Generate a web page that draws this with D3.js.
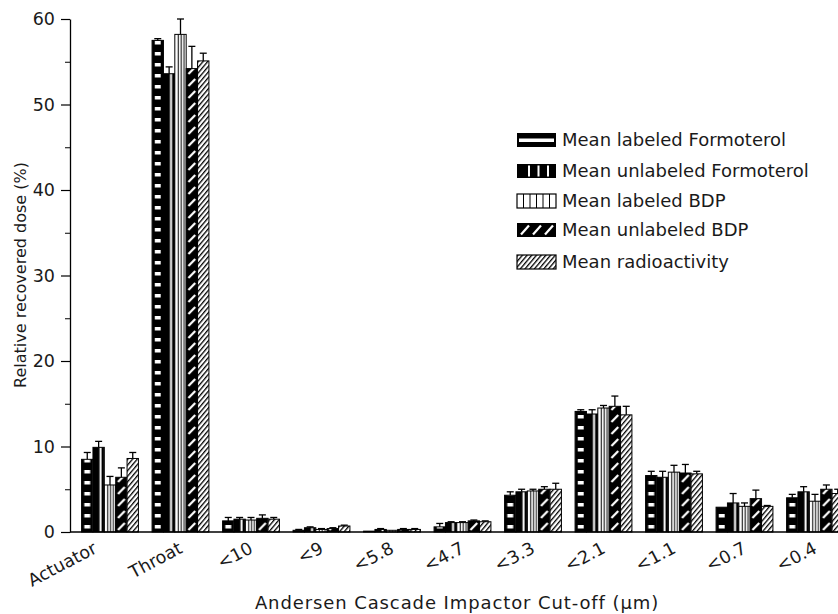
<!DOCTYPE html>
<html>
<head>
<meta charset="utf-8">
<script src="https://cdn.jsdelivr.net/npm/d3@7/dist/d3.min.js"></script>
<style>
  html, body { margin: 0; padding: 0; background: #fff; }
  svg { display: block; font-family: "DejaVu Sans", sans-serif; }
</style>
</head>
<body>
<svg id="chart" width="838" height="614"></svg>
<script>
// Impactor stages (x categories)
const categories = ["Actuator", "Throat", "<10", "<9", "<5.8", "<4.7", "<3.3", "<2.1", "<1.1", "<0.7", "<0.4"];

// Series names as shown in the legend
const seriesNames = ["Mean labeled Formoterol", "Mean unlabeled Formoterol", "Mean labeled BDP", "Mean unlabeled BDP", "Mean radioactivity"];

// Mean relative recovered dose (%) per stage
const labeledFormoterol   = [8.5, 57.5, 1.3, 0.2, 0.1, 0.6, 4.3, 14.1, 6.6, 2.9, 4.0];
const unlabeledFormoterol = [9.9, 53.6, 1.5, 0.5, 0.3, 1.1, 4.7, 13.8, 6.4, 3.4, 4.7];
const labeledBDP          = [5.5, 58.2, 1.4, 0.3, 0.2, 1.1, 4.8, 14.5, 7.0, 3.0, 3.6];
const unlabeledBDP        = [6.4, 54.2, 1.6, 0.4, 0.3, 1.3, 5.0, 14.7, 6.9, 3.9, 5.0];
const radioactivity       = [8.6, 55.1, 1.5, 0.7, 0.3, 1.2, 5.0, 13.7, 6.8, 3.0, 4.5];

// Upper error (SD) per stage
const errLabeledFormoterol   = [0.8, 0.2, 0.4, 0.1, 0.0, 0.4, 0.4, 0.2, 0.5, 0.0, 0.4];
const errUnlabeledFormoterol = [0.7, 0.8, 0.2, 0.1, 0.1, 0.1, 0.3, 0.5, 0.7, 1.1, 0.6];
const errLabeledBDP          = [1.0, 1.8, 0.3, 0.1, 0.0, 0.1, 0.2, 0.3, 0.8, 0.4, 0.8];
const errUnlabeledBDP        = [1.1, 2.6, 0.4, 0.1, 0.1, 0.1, 0.3, 1.2, 1.0, 1.0, 0.5];
const errRadioactivity       = [0.7, 0.9, 0.2, 0.1, 0.1, 0.1, 0.7, 1.0, 0.3, 0.1, 0.5];

// Axis ticks
const yTicks = [0, 10, 20, 30, 40, 50, 60];
const yMinorTicks = [5, 15, 25, 35, 45, 55];

const seriesValues = [labeledFormoterol, unlabeledFormoterol, labeledBDP, unlabeledBDP, radioactivity];
const seriesErrors = [errLabeledFormoterol, errUnlabeledFormoterol, errLabeledBDP, errUnlabeledBDP, errRadioactivity];

const svg = d3.select("#chart");
const W = 838, H = 614;
const axisX = 70, baseY = 532;
const textColor = "#1a1a1a";

const y = d3.scaleLinear().domain([0, 60]).range([baseY, 19]);
const x0 = d3.scaleBand().domain(categories).range([74.75, 850.25]).padding(0);
const x1 = d3.scaleBand().domain(d3.range(5)).range([0, x0.step()]).paddingInner(0).paddingOuter(0.6);
const bw = x1.bandwidth();
const start = x0.range()[0];

// ---- fill patterns for bars (tile aligned to each series' bar slot) ----
const defs = svg.append("defs");
function slotPattern(id, s, h) {
  return defs.append("pattern").attr("id", id)
    .attr("patternUnits", "userSpaceOnUse")
    .attr("x", start + x1(s)).attr("y", baseY)
    .attr("width", x0.step()).attr("height", h);
}
// 0: black with short white horizontal dashes
let p = slotPattern("pat0", 0, 11);
p.append("rect").attr("width", bw).attr("height", 11).attr("fill", "#000");
p.append("rect").attr("x", bw * 0.24).attr("y", 4).attr("width", bw * 0.52).attr("height", 3.5).attr("fill", "#fff");
// 1: black with a white vertical stripe
p = slotPattern("pat1", 1, 10);
p.append("rect").attr("width", bw).attr("height", 10).attr("fill", "#000");
p.append("rect").attr("x", bw * 0.58).attr("width", 2).attr("height", 10).attr("fill", "#fff");
// 2: white with thin black vertical lines
p = slotPattern("pat2", 2, 10);
p.append("rect").attr("width", bw).attr("height", 10).attr("fill", "#fff");
[0.3, 0.55, 0.8].forEach(f => p.append("rect").attr("x", bw * f - 0.5).attr("width", 1).attr("height", 10).attr("fill", "#000"));
// 3: black with white diagonal dashes
p = slotPattern("pat3", 3, 12);
p.append("rect").attr("width", bw).attr("height", 12).attr("fill", "#000");
p.append("line").attr("x1", bw * 0.2).attr("y1", 10).attr("x2", bw * 0.8).attr("y2", 3)
  .attr("stroke", "#fff").attr("stroke-width", 2.2);
// 4: white with dense black diagonal hatching
p = defs.append("pattern").attr("id", "pat4").attr("patternUnits", "userSpaceOnUse")
  .attr("width", 3.6).attr("height", 10).attr("patternTransform", "rotate(40)");
p.append("rect").attr("width", 3.6).attr("height", 10).attr("fill", "#fff");
p.append("rect").attr("width", 1.3).attr("height", 10).attr("fill", "#000");

// ---- bars ----
const rows = [];
categories.forEach((c, i) => {
  seriesValues.forEach((vals, s) => rows.push({ c, s, v: vals[i], e: seriesErrors[s][i] }));
});

const gBars = svg.append("g");
gBars.selectAll("rect.bar").data(rows).join("rect")
  .attr("class", "bar")
  .attr("x", d => x0(d.c) + x1(d.s))
  .attr("y", d => y(d.v))
  .attr("width", bw)
  .attr("height", d => baseY - y(d.v))
  .attr("fill", d => `url(#pat${d.s})`)
  .attr("stroke", "#000").attr("stroke-width", 1);

// ---- upper error bars ----
const gErr = svg.append("g").attr("stroke", "#000").attr("stroke-width", 1.3);
const withErr = rows.filter(d => d.e > 0);
gErr.selectAll("line.stem").data(withErr).join("line")
  .attr("x1", d => x0(d.c) + x1(d.s) + bw / 2).attr("x2", d => x0(d.c) + x1(d.s) + bw / 2)
  .attr("y1", d => y(d.v)).attr("y2", d => y(d.v + d.e));
gErr.selectAll("line.cap").data(withErr).join("line")
  .attr("x1", d => x0(d.c) + x1(d.s) + bw / 2 - 3.5).attr("x2", d => x0(d.c) + x1(d.s) + bw / 2 + 3.5)
  .attr("y1", d => y(d.v + d.e)).attr("y2", d => y(d.v + d.e));

// ---- axes ----
const yAxis = svg.append("g").attr("transform", `translate(${axisX},0)`)
  .call(d3.axisLeft(y).tickValues(yTicks).tickSize(9).tickPadding(6).tickSizeOuter(0));
yAxis.select(".domain").attr("stroke-width", 1.3);
yAxis.selectAll(".tick line").attr("stroke-width", 1.2);
yAxis.selectAll(".tick text").attr("font-size", 17.5).attr("font-family", "DejaVu Sans").attr("fill", textColor);
const yMinor = svg.append("g").attr("transform", `translate(${axisX},0)`)
  .call(d3.axisLeft(y).tickValues(yMinorTicks).tickSize(5).tickFormat(""));
yMinor.select(".domain").remove();

svg.append("line").attr("x1", axisX).attr("x2", W).attr("y1", baseY).attr("y2", baseY)
  .attr("stroke", "#000").attr("stroke-width", 1.3);

// rotated stage labels (the long first label is pulled a little further left)
svg.append("g").selectAll("text").data(categories).join("text")
  .attr("transform", (d, i) => `translate(${x0(d) + x0.bandwidth() / 2 + (i === 0 ? -12 : 3)},${baseY + 20}) rotate(-28)`)
  .attr("text-anchor", "end")
  .attr("font-size", 17.5).attr("fill", textColor)
  .text(d => d);

// axis titles
svg.append("text")
  .attr("transform", `translate(26,275) rotate(-90)`)
  .attr("text-anchor", "middle").attr("font-size", 16).attr("fill", textColor)
  .text("Relative recovered dose (%)");
svg.append("text")
  .attr("x", 457).attr("y", 609)
  .attr("text-anchor", "middle").attr("font-size", 18).attr("letter-spacing", 0.9).attr("fill", textColor)
  .text("Andersen Cascade Impactor Cut-off (μm)");

// ---- legend ----
const legendRows = [140, 171, 201, 230, 262];
const lg = svg.append("g");
const sw = 39, sh = 14, lx = 517;
seriesNames.forEach((name, s) => {
  const cy = legendRows[s];
  const g = lg.append("g").attr("transform", `translate(${lx},${cy - sh / 2})`);
  if (s === 0) {
    g.append("rect").attr("width", sw).attr("height", sh).attr("fill", "#000");
    g.append("rect").attr("x", 2).attr("y", 5.5).attr("width", sw - 4).attr("height", 3.5).attr("fill", "#fff");
  } else if (s === 1) {
    g.append("rect").attr("width", sw).attr("height", sh).attr("fill", "#000");
    [11, 20.5, 30].forEach(xx => g.append("rect").attr("x", xx).attr("y", 1.5).attr("width", 2).attr("height", sh - 3).attr("fill", "#fff"));
  } else if (s === 2) {
    g.append("rect").attr("width", sw).attr("height", sh).attr("fill", "#fff").attr("stroke", "#000").attr("stroke-width", 1.2);
    [6.5, 13, 19.5, 26, 32.5].forEach(xx => g.append("line").attr("x1", xx).attr("x2", xx).attr("y1", 0).attr("y2", sh).attr("stroke", "#000").attr("stroke-width", 1));
  } else if (s === 3) {
    g.append("rect").attr("width", sw).attr("height", sh).attr("fill", "#000");
    [4, 16, 28].forEach(xx => g.append("line").attr("x1", xx).attr("y1", sh - 2.5).attr("x2", xx + 8).attr("y2", 2.5).attr("stroke", "#fff").attr("stroke-width", 2.2));
  } else {
    g.append("rect").attr("width", sw).attr("height", sh).attr("fill", "url(#pat4)").attr("stroke", "#000").attr("stroke-width", 1.2);
  }
  lg.append("text").attr("x", 562).attr("y", cy).attr("dy", "0.36em")
    .attr("font-size", 18).attr("fill", textColor).text(name);
});
</script>
</body>
</html>
